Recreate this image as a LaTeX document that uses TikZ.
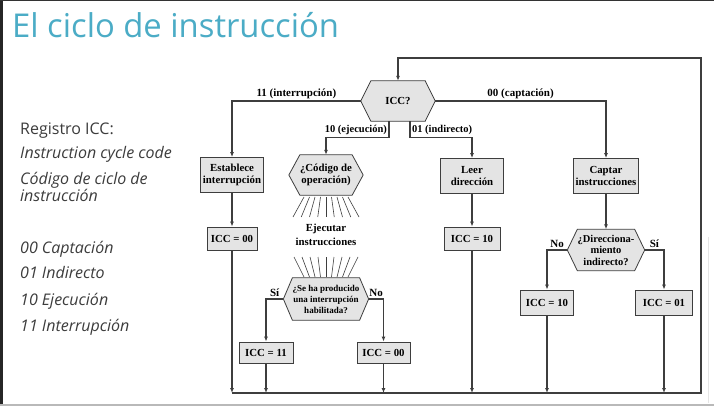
\documentclass[tikz,border=0pt]{standalone}
\usepackage{fontspec}
\setmainfont{Liberation Serif}
\newfontfamily\slidefont{Open Sans}
\usetikzlibrary{arrows.meta,backgrounds}
\definecolor{titleblue}{RGB}{75,172,198}
\definecolor{bodygray}{RGB}{60,60,60}
\definecolor{boxfill}{RGB}{228,228,228}
\definecolor{edgegray}{RGB}{62,62,62}

% outline of a hexagonal decision node drawn around its text node
\newcommand\hexoutline[2]{%
  \path[hexedge] ([xshift=-#2pt]#1.west) -- (#1.north west) -- (#1.north east)
    -- ([xshift=#2pt]#1.east) -- (#1.south east) -- (#1.south west) -- cycle;}

\begin{document}
\begin{tikzpicture}[x=1pt,y=-1pt,
  flow/.style={draw=edgegray, line width=1.1pt},
  arr/.style={flow, -{Latex[length=5pt,width=4pt]}},
  box/.style={draw=edgegray, line width=0.8pt, fill=boxfill, align=center,
    font=\bfseries\fontsize{10.8}{12}\selectfont, inner sep=2.5pt, minimum height=23pt},
  hexcore/.style={align=center, inner sep=0pt,
    font=\bfseries\fontsize{10.8}{12}\selectfont},
  hexedge/.style={draw=edgegray, line width=0.8pt, fill=boxfill},
  lbl/.style={font=\bfseries\fontsize{11}{12}\selectfont, inner sep=1.5pt},
  ray/.style={draw=edgegray, line width=0.6pt},
  slidetext/.style={anchor=base west, inner sep=0pt, text=bodygray,
    font=\slidefont\fontsize{16}{19}\selectfont},
]
\useasboundingbox (0,0) rectangle (714,406);
\begin{scope}[on background layer]
  \fill[white] (0,0) rectangle (714,406);
\end{scope}

% window edges
\fill[black!85] (0,0) rectangle (2.5,406);
\draw[black!80, line width=1pt] (0,0.5) -- (714,0.5);
\draw[gray!55, line width=1.5pt] (0,405) -- (714,405);
\draw[gray!20, line width=1pt] (708,237) -- (708,403);

% slide title and notes
\node[anchor=base west, inner sep=0pt, text=titleblue,
  font=\slidefont\fontsize{32.8}{38}\selectfont] (title) at (12,38) {El ciclo de instrucción};
\node[slidetext] (reg) at (20,135) {Registro ICC:};
\node[slidetext] (en) at (20,159) {\itshape Instruction cycle code};
\node[slidetext] (es1) at (20,184) {\itshape Código de ciclo de};
\node[slidetext] (es2) at (20,201) {\itshape instrucción};
\node[slidetext] (c00) at (20,253) {\itshape 00 Captación};
\node[slidetext] (c01) at (20,278) {\itshape 01 Indirecto};
\node[slidetext] (c10) at (20,305) {\itshape 10 Ejecución};
\node[slidetext] (c11) at (20,331) {\itshape 11 Interrupción};

% decision nodes (text part; outlines drawn below)
\node[hexcore, minimum width=54pt, minimum height=40pt] (icc) at (398,101) {ICC?};
\node[hexcore, minimum width=51pt, minimum height=40pt] (cod) at (326,175) {¿Código de\\operación)};
\node[hexcore, minimum width=54pt, minimum height=42pt,
  font=\bfseries\fontsize{9}{11}\selectfont] (intr) at (326,299) {¿Se ha producido\\una interrupción\\habilitada?};
\node[hexcore, minimum width=53pt, minimum height=41pt,
  font=\bfseries\fontsize{10.5}{11.5}\selectfont] (dir) at (606,250) {¿Direcciona-\\miento\\indirecto?};

% process boxes
\node[box, minimum height=35pt] (est) at (232,175) {Establece\\interrupción};
\node[box, minimum height=35pt, minimum width=63pt] (leer) at (472,176) {Leer\\dirección};
\node[box, minimum height=35pt] (cap) at (606,176) {Captar\\instrucciones};
\node[box, minimum width=50pt] (iA) at (232,238.5) {ICC = 00};
\node[box, minimum width=56pt] (iB) at (472,238.5) {ICC = 10};
\node[box, minimum width=54pt, minimum height=21pt] (iC) at (266,352.5) {ICC = 11};
\node[box, minimum width=53pt, minimum height=21pt] (iD) at (383.5,352.5) {ICC = 00};
\node[box, minimum width=53pt, minimum height=25pt] (iE) at (547,302.5) {ICC = 10};
\node[box, minimum width=57pt, minimum height=25pt] (iF) at (664,302.5) {ICC = 01};

\node[align=center, font=\bfseries\fontsize{10.8}{13.5}\selectfont, inner sep=0pt] (exe) at (326,235)
  {Ejecutar\\instrucciones};

\begin{scope}[on background layer]
  \hexoutline{icc}{10}
  \hexoutline{cod}{11}
  \hexoutline{intr}{9}
  \hexoutline{dir}{10}
\end{scope}

% rays around the execution step
\foreach \k in {-4,...,4}{
  \pgfmathsetmacro\s{0.1375*\k}
  \draw[ray] (326+40*\s,197) -- (326+60*\s,217);
  \pgfmathsetmacro\t{0.125*\k}
  \draw[ray] (326+64*\t,257) -- (326+44*\t,277);
}

% return bus
\coordinate (busL) at (232,393);
\coordinate (busR) at (701,393);
\coordinate (busT) at (701,58);
\draw[arr] (busL) -- (busR) -- (busT) -| (icc.north);

% branches from ICC?
\draw[arr] ([xshift=-10pt]icc.west) -| node[lbl, above, pos=0.25] {11 (interrupción)} (est.north);
\draw[arr] ([xshift=10pt]icc.east) -| node[lbl, above, pos=0.25] {00 (captación)} (cap.north);
\draw[arr] ([xshift=-9pt]icc.south) -- ++(0,16)
  -| node[lbl, pos=0, anchor=south east, font=\bfseries\fontsize{10.5}{12}\selectfont] {10 (ejecución)} (cod.north);
\draw[arr] ([xshift=12pt]icc.south) -- ++(0,16)
  -| node[lbl, pos=0, anchor=south west, font=\bfseries\fontsize{10.5}{12}\selectfont] {01 (indirecto)} (leer.north);

% interrupt column
\draw[arr] (est) -- (iA);
\draw[arr] (iA) -- (busL);

% execute column
\draw[arr] ([xshift=-9pt]intr.west) -| node[lbl, above, pos=0.25] {Sí} (iC.north);
\draw[arr] ([xshift=9pt]intr.east) -| node[lbl, above, pos=0.25] {No} (iD.north);
\draw[arr] (iC) -- (iC |- busL);
\draw[arr] (iD) -- (iD |- busL);

% indirect column
\draw[arr] (leer) -- (iB);
\draw[arr] (iB) -- (iB |- busL);

% fetch column
\draw[arr] (cap) -- (dir.north);
\draw[arr] ([xshift=-10pt]dir.west) -| node[lbl, above, pos=0.25] {No} (iE.north);
\draw[arr] ([xshift=10pt]dir.east) -| node[lbl, above, pos=0.25] {Sí} (iF.north);
\draw[arr] (iE) -- (iE |- busL);
\draw[arr] (iF) -- (iF |- busL);
\end{tikzpicture}
\end{document}
